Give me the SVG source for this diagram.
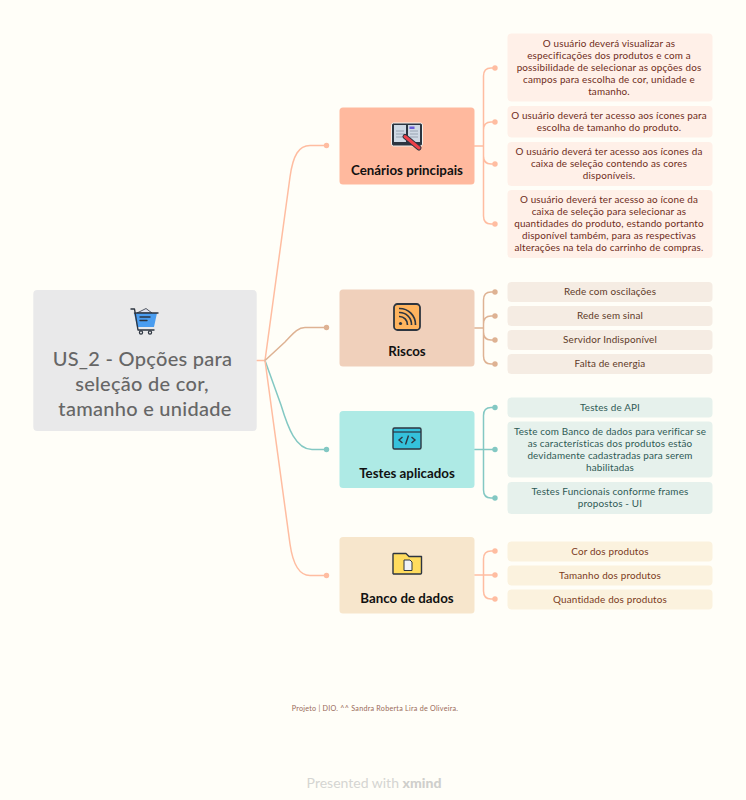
<svg xmlns="http://www.w3.org/2000/svg" width="746" height="800" viewBox="0 0 746 800">
<style>
text{font-family:"Lato","Noto Sans",sans-serif;text-anchor:middle}
.root{font-size:20px;font-weight:500;fill:#666;letter-spacing:.28px}
.main{font-size:13.3px;font-weight:700;fill:#111}
.s{font-size:9.9px;letter-spacing:.16px}
.a{fill:#6e2c1a}.b{fill:#5e3a28}.c{fill:#2e5a55}.d{fill:#7a3a1c}
.l{fill:none;stroke-width:1.5;stroke-linecap:round}
.p{stroke:#ffbda1}.r{stroke:#deb293}.t{stroke:#83c8c3}
.ink{fill:none;stroke:#2d3540;stroke-width:1.4;stroke-linejoin:round;stroke-linecap:round}
</style>
<rect width="746" height="800" fill="#fffef8"/>
<g id="connectors">
<path class="l p" d="M256.7 360.500H265"/>
<path class="l p" d="M265 360.500L290 177C293 155 299 145.500 310 145.500H326.500"/>
<path class="l r" d="M265 360.500L285 342C292 335 297 327.500 305 327.500H326.500"/>
<path class="l t" d="M265 360.500L281 405C288 428 296 449.500 312 449.500H326.500"/>
<path class="l p" d="M265 360.500L290 544C293 565 299 575.500 310 575.500H326.500"/>
<path class="l p" d="M474.500 146H483.500M483.500 146V76Q483.500 68 491 68H495M483.500 146V130Q483.500 122 491 122H495M483.500 146V156Q483.500 164 491 164H495M483.500 146V216Q483.500 224 491 224H495"/>
<path class="l r" d="M474.500 328H483.500M483.500 328V300Q483.500 292 491 292H495M483.500 328V324Q483.500 316 491 316H495M483.500 328V332Q483.500 340 491 340H495M483.500 328V356Q483.500 364 491 364H495"/>
<path class="l t" d="M474.500 449.500H495M483.500 449.500V415.500Q483.500 407.500 491 407.500H495M483.500 449.500V490Q483.500 498 491 498H495"/>
<path class="l p" d="M474.500 575H495M483.500 575V559Q483.500 551 491 551H495M483.500 575V591Q483.500 599 491 599H495"/>
<g fill="#ffbda1"><circle cx="326.500" cy="145.500" r="2.700"/><circle cx="326.500" cy="575.500" r="2.700"/><circle cx="495" cy="68" r="2.700"/><circle cx="495" cy="122" r="2.700"/><circle cx="495" cy="164" r="2.700"/><circle cx="495" cy="224" r="2.700"/><circle cx="495" cy="551" r="2.700"/><circle cx="495" cy="575" r="2.700"/><circle cx="495" cy="599" r="2.700"/></g>
<g fill="#deb293"><circle cx="326.500" cy="327.500" r="2.700"/><circle cx="495" cy="292" r="2.700"/><circle cx="495" cy="316" r="2.700"/><circle cx="495" cy="340" r="2.700"/><circle cx="495" cy="364" r="2.700"/></g>
<g fill="#83c8c3"><circle cx="326.500" cy="449.500" r="2.700"/><circle cx="495" cy="407.500" r="2.700"/><circle cx="495" cy="449.500" r="2.700"/><circle cx="495" cy="498" r="2.700"/></g>
</g>
<g id="root">
<rect x="33.300" y="290" width="223.400" height="141" rx="4" fill="#e9e9ea"/>
<path d="M137 313L146 308.500L152 313Z" fill="#dfe2ee" stroke="#2d3540" stroke-width=".8"/>
<path d="M134 313H157L154 327H137Z" fill="#4a9df0"/>
<path class="ink" d="M131 309H134.500L138 330H154M134.500 313H158M140 317H150M140 320.500H147"/>
<circle cx="141" cy="332.500" r="1.600" fill="none" stroke="#2d3540" stroke-width="1.200"/><circle cx="150" cy="332.500" r="1.600" fill="none" stroke="#2d3540" stroke-width="1.200"/>
<text class="root" x="142.500" y="366">US_2 - Opções para</text>
<text class="root" x="142" y="391">seleção de cor,</text>
<text class="root" x="145" y="416">tamanho e unidade</text>
</g>
<g id="cenarios">
<rect x="339.500" y="107.500" width="135" height="77" rx="3.500" fill="#ffb99e"/>
<rect x="391.500" y="123" width="31" height="23" rx="2" fill="#2d3540" stroke="#f4f0ec" stroke-width="1"/>
<path d="M394 125H406V142H394ZM408 125H420V142H408Z" fill="#cfd9e4"/>
<path d="M396 131H404M396 134H404M396 137H403M410 131H418M410 134H418M410 137H418" stroke="#8b97a5" stroke-width=".8"/>
<path d="M409.500 126.500H414.500V129H409.500Z" fill="#6a5bd8"/>
<path d="M405 136.500L419 148" stroke="#2d3540" stroke-width="5" stroke-linecap="round"/>
<path d="M405 136.500L419 148" stroke="#ee4049" stroke-width="3" stroke-linecap="round"/>
<text class="main" x="407" y="174.500">Cenários principais</text>
</g>
<g id="riscos">
<rect x="339.500" y="289.500" width="135" height="77" rx="3.500" fill="#f0d0bb"/>
<rect x="394" y="304" width="26" height="26" rx="3.500" fill="#ffb45e" stroke="#2d3540" stroke-width="1.800"/>
<circle cx="400.500" cy="323.500" r="1.600" fill="#2d3540"/>
<path d="M399 316.500A8 8 0 0 1 407.500 325M399 312.500A12 12 0 0 1 411.500 325M399 308.500A16 16 0 0 1 415.500 325" fill="none" stroke="#2d3540" stroke-width="1.700"/>
<text class="main" x="407" y="356">Riscos</text>
</g>
<g id="testes">
<rect x="339.500" y="411" width="135" height="77" rx="3.500" fill="#aeeae5"/>
<rect x="393" y="428" width="28" height="21" rx="1.500" fill="#35c1dc" stroke="#2d3540" stroke-width="1.400"/>
<path d="M393 432H421" stroke="#2d3540" stroke-width="1.200"/>
<path d="M402.500 437L399 440L402.500 443M411.500 437L415 440L411.500 443M408.500 435.500L405.500 444.500" fill="none" stroke="#2d3540" stroke-width="1.400"/>
<text class="main" x="407" y="478">Testes aplicados</text>
</g>
<g id="banco">
<rect x="339.500" y="537" width="135" height="76.500" rx="3.500" fill="#f7e6cc"/>
<path d="M393.500 574H420.500Q421.500 574 421.500 573V556.500H409L406 553.500H393.500Q393 553.500 393 554.500V573.500Z" fill="#ffdc5e" stroke="#2d3540" stroke-width="1.400" stroke-linejoin="round"/>
<path d="M404 560H410L412 562V570.500H404Z" fill="#f1f3f7" stroke="#2d3540" stroke-width="1"/>
<text class="main" x="407" y="603">Banco de dados</text>
</g>
<g id="sub-cenarios">
<g fill="#fff0e8"><rect x="507.500" y="33.500" width="205" height="68" rx="4"/><rect x="507.500" y="106" width="205" height="31.500" rx="4"/><rect x="507.500" y="142" width="205" height="44" rx="4"/><rect x="507.500" y="190" width="205" height="68" rx="4"/></g>
<g class="s a">
<text x="609" y="47">O usuário deverá visualizar as</text>
<text x="609" y="59">especificações dos produtos e com a</text>
<text x="609" y="71">possibilidade de selecionar as opções dos</text>
<text x="609" y="83">campos para escolha de cor, unidade e</text>
<text x="609" y="95">tamanho.</text>
<text x="609" y="119">O usuário deverá ter acesso aos ícones para</text>
<text x="609" y="131">escolha de tamanho do produto.</text>
<text x="609" y="155">O usuário deverá ter acesso aos ícones da</text>
<text x="609" y="167">caixa de seleção contendo as cores</text>
<text x="609" y="179">disponíveis.</text>
<text x="609" y="203">O usuário deverá ter acesso ao ícone da</text>
<text x="609" y="215">caixa de seleção para selecionar as</text>
<text x="609" y="227">quantidades do produto, estando portanto</text>
<text x="609" y="239">disponível também, para as respectivas</text>
<text x="609" y="251">alterações na tela do carrinho de compras.</text>
</g></g>
<g id="sub-riscos">
<g fill="#f5ece3"><rect x="507.500" y="282" width="205" height="20" rx="4"/><rect x="507.500" y="306" width="205" height="20" rx="4"/><rect x="507.500" y="330" width="205" height="20" rx="4"/><rect x="507.500" y="354" width="205" height="20" rx="4"/></g>
<g class="s b">
<text x="610" y="295">Rede com oscilações</text>
<text x="610" y="319">Rede sem sinal</text>
<text x="610" y="343">Servidor Indisponível</text>
<text x="610" y="367">Falta de energia</text>
</g></g>
<g id="sub-testes">
<g fill="#e6f1ec"><rect x="507.500" y="397.500" width="205" height="20" rx="4"/><rect x="507.500" y="421.500" width="205" height="56" rx="4"/><rect x="507.500" y="482" width="205" height="32" rx="4"/></g>
<g class="s c">
<text x="610" y="411">Testes de API</text>
<text x="610" y="435">Teste com Banco de dados para verificar se</text>
<text x="610" y="447">as características dos produtos estão</text>
<text x="610" y="459">devidamente cadastradas para serem</text>
<text x="610" y="471">habilitadas</text>
<text x="610" y="495">Testes Funcionais conforme frames</text>
<text x="610" y="507">propostos - UI</text>
</g></g>
<g id="sub-banco">
<g fill="#fbf2de"><rect x="507.500" y="541.500" width="205" height="20" rx="4"/><rect x="507.500" y="565.500" width="205" height="20" rx="4"/><rect x="507.500" y="589.500" width="205" height="20" rx="4"/></g>
<g class="s d">
<text x="610" y="555">Cor dos produtos</text>
<text x="610" y="579">Tamanho dos produtos</text>
<text x="610" y="603">Quantidade dos produtos</text>
</g></g>
<g id="footer">
<text x="375" y="710.500" font-size="7.200" letter-spacing=".24" fill="#9a6a58">Projeto | DIO. ^^ Sandra Roberta Lira de Oliveira.</text>
<text x="374" y="788" font-size="14" fill="#d5d5d2">Presented with <tspan font-weight="900" fill="#cfcfcc">xmind</tspan></text>
</g>
</svg>
